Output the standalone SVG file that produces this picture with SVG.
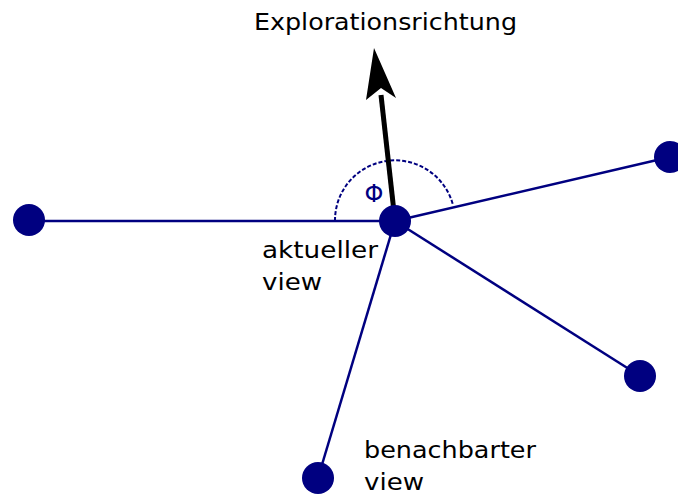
<svg xmlns="http://www.w3.org/2000/svg" width="678" height="495" viewBox="0 0 678 495">
<style>
.edge{stroke:#000080;stroke-width:2.5;fill:none}
.node{fill:#000080}
.lbl{font-family:"DejaVu Sans","Open Sans",sans-serif;font-size:23px;fill:#000}
</style>
<rect width="678" height="495" fill="#fff"/>
<g id="connectors">
<line class="edge" x1="29" y1="221" x2="395" y2="221"/>
<line class="edge" x1="395" y1="221" x2="670" y2="157"/>
<line class="edge" x1="395" y1="221" x2="640" y2="376"/>
<line class="edge" x1="395" y1="221" x2="318" y2="478"/>
<path d="M335,221 A60,60 0 0 1 453,205" fill="none" stroke="#000080" stroke-width="2" stroke-dasharray="4,2"/>
<line x1="395" y1="221" x2="381" y2="95" stroke="#000" stroke-width="5"/>
<path d="M374,48 L396,98 L381,88 L366,100 Z" fill="#000"/>
</g>
<g id="phi"><text x="374" y="202" font-family="'DejaVu Sans',sans-serif" font-size="24" fill="#000080" text-anchor="middle">Φ</text></g>
<g id="n-center"><circle class="node" cx="395" cy="221" r="16"/></g>
<g id="n-left"><circle class="node" cx="29" cy="220" r="16"/></g>
<g id="n-topright"><circle class="node" cx="670" cy="157" r="16"/></g>
<g id="n-botright"><circle class="node" cx="640" cy="376" r="16"/></g>
<g id="n-bottom"><circle class="node" cx="318" cy="478" r="16"/></g>
<g id="labels">
<text class="lbl" x="254" y="30" textLength="263" lengthAdjust="spacingAndGlyphs">Explorationsrichtung</text>
<text class="lbl" x="262" y="258" textLength="116" lengthAdjust="spacingAndGlyphs">aktueller</text>
<text class="lbl" x="262" y="290" textLength="60" lengthAdjust="spacingAndGlyphs">view</text>
<text class="lbl" x="364" y="458" textLength="172" lengthAdjust="spacingAndGlyphs">benachbarter</text>
<text class="lbl" x="364" y="490" textLength="60" lengthAdjust="spacingAndGlyphs">view</text>
</g>
</svg>
